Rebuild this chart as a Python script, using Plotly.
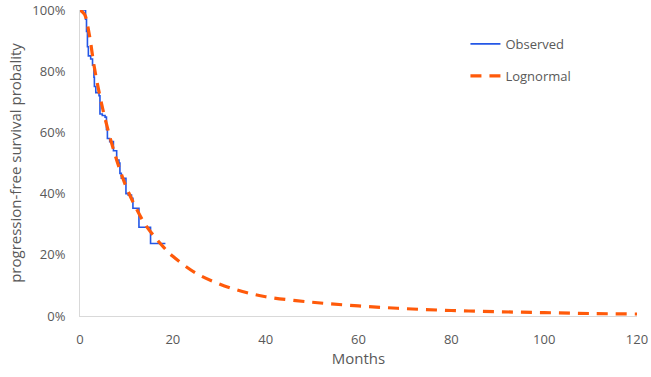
import plotly.graph_objects as go

# Observed Kaplan-Meier steps (months, survival)
obs_t = [0, 1.2, 1.4, 1.6, 1.8, 2.3, 2.7, 3.0, 3.1, 3.4, 4.1, 4.3, 4.8, 5.4, 5.7, 5.9,
         6.4, 7.2, 7.9, 8.4, 8.6, 8.9, 9.9, 10.4, 11.1, 11.4, 12.7, 15.2, 18.4]
obs_s = [1.0, 0.97, 0.93, 0.88, 0.85, 0.84, 0.82, 0.78, 0.75, 0.73, 0.72, 0.66, 0.655, 0.65,
         0.61, 0.58, 0.57, 0.54, 0.51, 0.50, 0.466, 0.45, 0.40, 0.395, 0.385, 0.352, 0.29,
         0.237, 0.237]

# Lognormal fitted curve
ln_t = [0, 1, 2, 3, 4, 5, 6, 7, 8, 9, 10, 12, 14, 16, 18, 20, 25, 30, 35, 40,
        50, 60, 70, 80, 90, 100, 110, 120]
ln_s = [1.0, 0.985, 0.92, 0.82, 0.74, 0.67, 0.61, 0.555, 0.505, 0.46, 0.42, 0.355,
        0.30, 0.26, 0.225, 0.195, 0.14, 0.105, 0.08, 0.063, 0.045, 0.033, 0.024,
        0.018, 0.014, 0.011, 0.008, 0.0065]

x_ticks = [0, 20, 40, 60, 80, 100, 120]
y_ticks = [0, 0.2, 0.4, 0.6, 0.8, 1.0]
y_labels = ["0%", "20%", "40%", "60%", "80%", "100%"]

fig = go.Figure()
fig.add_trace(go.Scatter(
    x=obs_t, y=obs_s, mode="lines", name="Observed", line_shape="hv",
    line=dict(color="#2457E6", width=1.6), cliponaxis=False, legendgroup="a"))
fig.add_trace(go.Scatter(
    x=ln_t, y=ln_s, mode="lines", name="Lognormal", line_shape="spline",
    line=dict(color="#FF5A0A", width=3.2, dash="11px,8px"), cliponaxis=False,
    legendgroup="b"))

grey = "#595959"
fig.update_layout(
    width=651, height=377,
    margin=dict(l=80, r=14, t=10, b=61, autoexpand=False),
    paper_bgcolor="white", plot_bgcolor="white",
    font=dict(family="Open Sans, Liberation Sans, sans-serif", color=grey, size=13),
    showlegend=True,
    legend=dict(x=0.692, y=0.938, xanchor="left", yanchor="top",
                font=dict(size=13, color=grey), bgcolor="rgba(0,0,0,0)",
                tracegroupgap=12, traceorder="grouped"),
    xaxis=dict(range=[0, 120], tickvals=x_ticks, showgrid=False, zeroline=False,
               showline=True, linecolor="#D9D9D9", linewidth=1, ticks="",
               automargin=False, ticklabelstandoff=11, ticklabeloverflow="allow",
               title=dict(text="Months", font=dict(size=15, color=grey), standoff=3),
               tickfont=dict(size=13, color=grey)),
    yaxis=dict(range=[0, 1], tickvals=y_ticks, ticktext=y_labels, showgrid=False,
               zeroline=False, showline=True, linecolor="#D9D9D9", linewidth=1,
               ticks="", ticklabelstandoff=11, automargin=False,
               ticklabeloverflow="allow",
               title=dict(text="progression-free survival probality",
                          font=dict(size=15, color=grey), standoff=7),
               tickfont=dict(size=13, color=grey)),
)

fig.write_html(
    "out.html",
    config={"displayModeBar": False},
    post_script="document.body.style.margin='0';document.body.style.overflow='hidden';",
)
